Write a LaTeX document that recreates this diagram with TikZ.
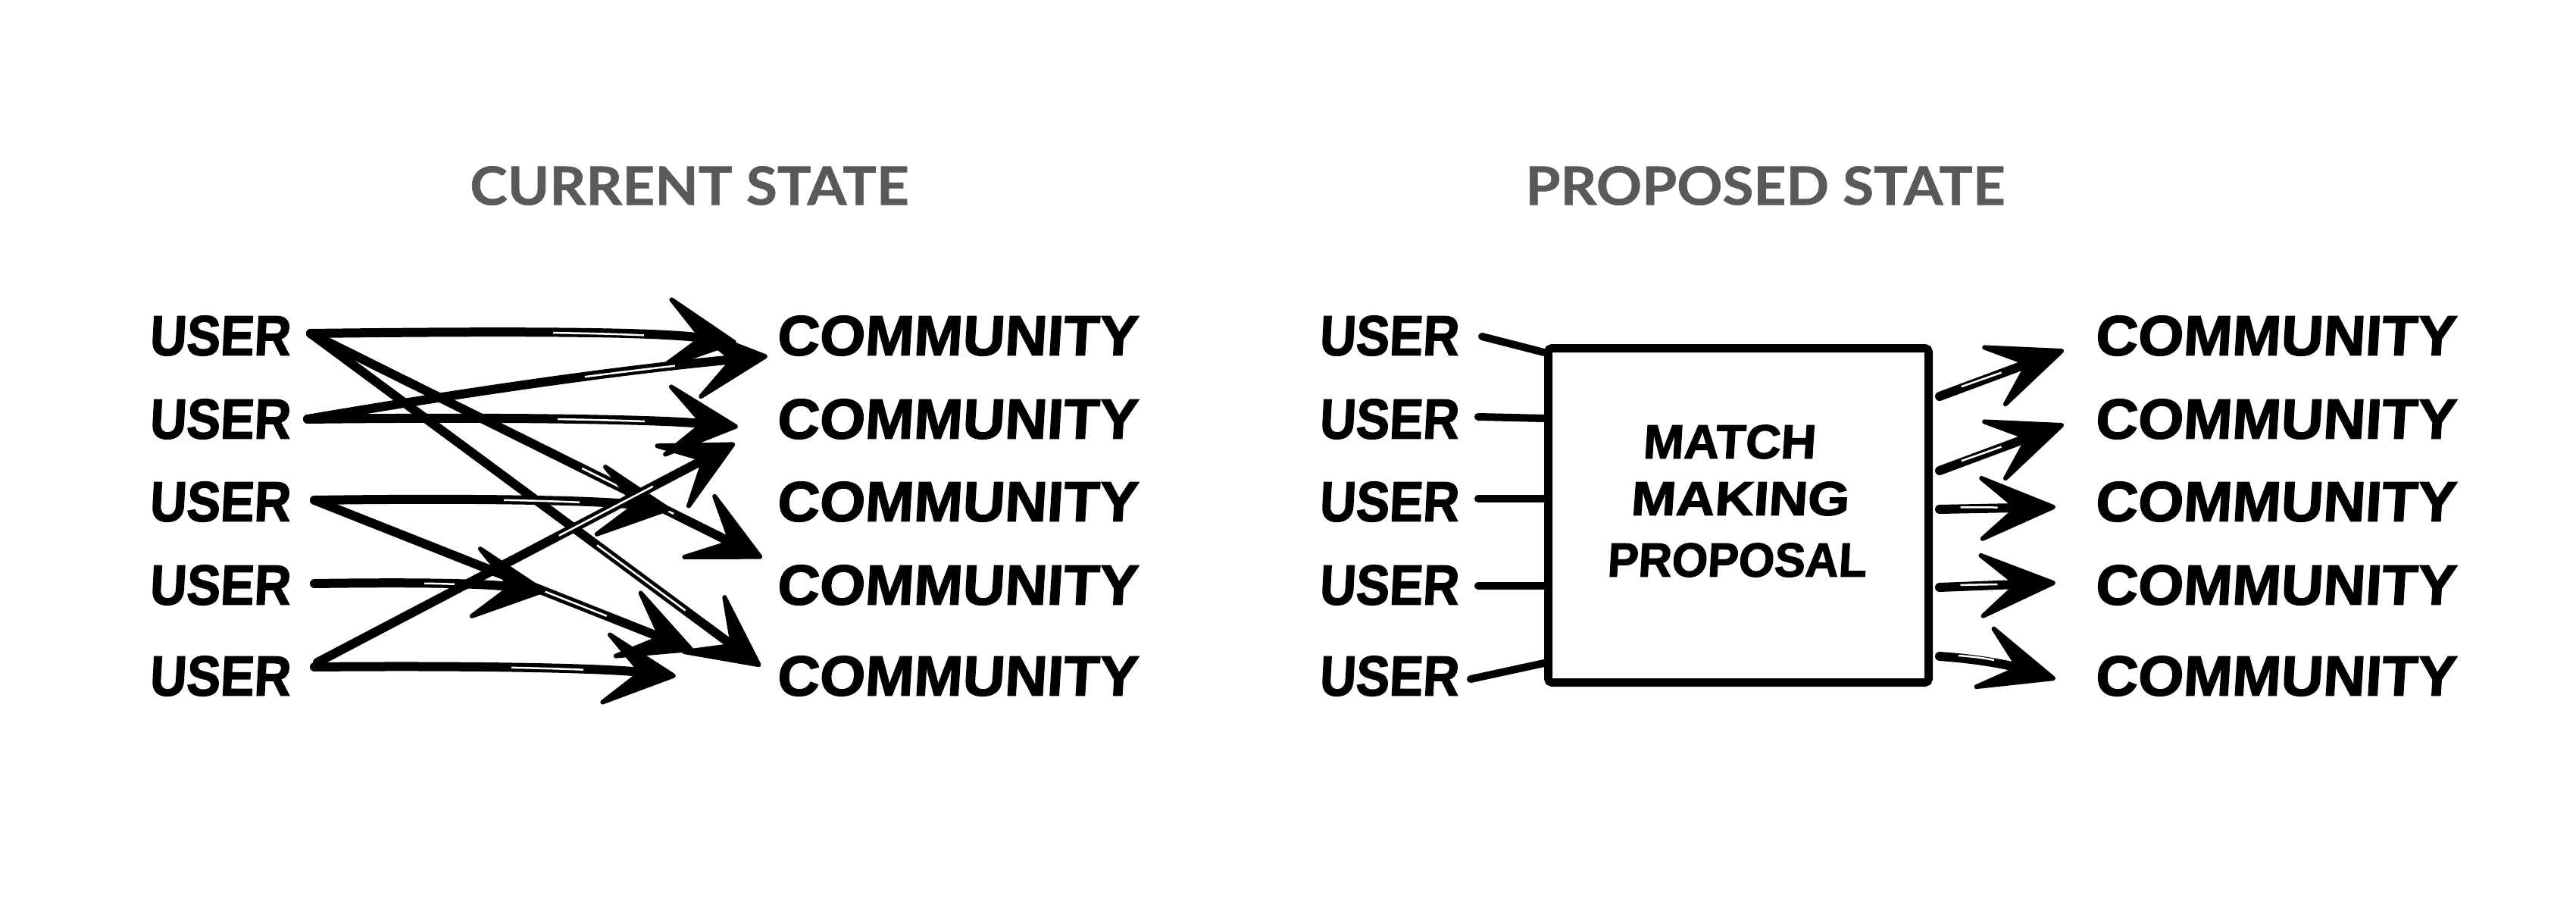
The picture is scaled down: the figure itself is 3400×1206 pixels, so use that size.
\documentclass[tikz,border=0pt]{standalone}
\usepackage{fontspec}
\usepackage{graphicx}
\usetikzlibrary{arrows.meta,calc}
\newfontfamily\handfont{Liberation Sans}[FakeSlant=0.06,FakeBold=2]
\newfontfamily\titlefont{Lato}[FakeBold=0.8]
\definecolor{titlegray}{HTML}{595959}
\newcommand\handtxt[3]{\resizebox{#1}{#2}{\handfont\bfseries #3}}
\newcommand\titletxt[3]{\resizebox{#1}{#2}{\titlefont\bfseries #3}}
\begin{document}
\begin{tikzpicture}[x=1pt,y=-1pt,
  lbl/.style={inner sep=0pt, outer sep=0pt},
  wire/.style={line width=12pt, line cap=round, line join=round},
  arr/.style={wire, -{Stealth[length=112pt,width=112pt,inset=58pt,line width=6pt,round]}},
  rwire/.style={line width=10pt, line cap=round, line join=round},
  rarr/.style={line width=12pt, line cap=round, line join=round,
               -{Stealth[length=118pt,width=100pt,inset=58pt,line width=6pt,round]}},
  gap/.style={draw=white, line width=2.5pt, line cap=butt},
  ttl/.style={lbl, text=titlegray}
]
\useasboundingbox (0,0) rectangle (3400,1206);
\fill[white] (0,0) rectangle (3400,1206);

% titles
\node[ttl] (tcur) at (910,245) {\titletxt{579pt}{51pt}{CURRENT STATE}};
\node[ttl] (tpro) at (2330,245) {\titletxt{633pt}{51pt}{PROPOSED STATE}};

% labels
\foreach \i/\y in {1/443,2/553,3/662,4/772,5/892}{
  \node[lbl, anchor=west] (lu\i) at (197,\y) {\handtxt{186pt}{52pt}{USER}};
  \node[lbl, anchor=west] (lc\i) at (1025,\y) {\handtxt{476pt}{52pt}{COMMUNITY}};
  \node[lbl, anchor=west] (ru\i) at (1741,\y) {\handtxt{184pt}{52pt}{USER}};
  \node[lbl, anchor=west] (rc\i) at (2765,\y) {\handtxt{476pt}{52pt}{COMMUNITY}};
}

% left connector ends
\coordinate (s1) at (410,440);
\coordinate (s2) at (406,553);
\coordinate (s3) at (415,660);
\coordinate (s4) at (415,770);
\coordinate (s5) at (415,880);
\coordinate (s5b) at (419,874);
\coordinate (t11) at (972,452);
\coordinate (t21) at (1013,470);
\coordinate (t22) at (974,563);
\coordinate (t52) at (970,585);
\coordinate (t33) at (885,672);
\coordinate (t14) at (1006,736);
\coordinate (t44) at (720,780);
\coordinate (t15) at (1004,879);
\coordinate (t35) at (915,858);
\coordinate (t55) at (892,892);

\draw[arr] (s1) .. controls (650,437) and (860,437) .. (t11);
\draw[gap, dash pattern=on 0pt off 320pt on 120pt off 9000pt] (s1) .. controls (650,437) and (860,437) .. (t11);
\draw[arr] (s1) -- (t14);
\draw[gap, dash pattern=on 0pt off 400pt on 135pt off 9000pt] (s1) -- (t14);
\draw[arr] (s1) -- (t15);
\draw[gap, dash pattern=on 0pt off 470pt on 145pt off 9000pt] (s1) -- (t15);
\draw[arr] (s2) .. controls (600,520) and (800,490) .. (t21);
\draw[gap, dash pattern=on 0pt off 370pt on 120pt off 9000pt] (s2) .. controls (600,520) and (800,490) .. (t21);
\draw[arr] (s2) .. controls (650,550) and (860,553) .. (t22);
\draw[gap, dash pattern=on 0pt off 330pt on 115pt off 9000pt] (s2) .. controls (650,550) and (860,553) .. (t22);
\draw[arr] (s3) .. controls (620,657) and (790,660) .. (t33);
\draw[gap, dash pattern=on 0pt off 250pt on 100pt off 9000pt] (s3) .. controls (620,657) and (790,660) .. (t33);
\draw[arr] (s3) -- (t35);
\draw[gap, dash pattern=on 0pt off 300pt on 115pt off 9000pt] (s3) -- (t35);
\draw[arr] (s4) .. controls (560,768) and (640,770) .. (t44);
\draw[gap, dash pattern=on 0pt off 145pt on 40pt off 9000pt] (s4) .. controls (560,768) and (640,770) .. (t44);
\draw[arr] (s5) .. controls (640,878) and (800,882) .. (t55);
\draw[gap, dash pattern=on 0pt off 260pt on 95pt off 9000pt] (s5) .. controls (640,878) and (800,882) .. (t55);
\draw[arr] (s5b) -- (t52);
\draw[gap, dash pattern=on 0pt off 360pt on 140pt off 9000pt] (s5b) -- (t52);

% right side: box
\node[draw, line width=11pt, rounded corners=5pt, minimum width=502pt,
      minimum height=441pt, inner sep=0pt] (box) at (2294.5,680) {};
\node[lbl] (m1) at (2282,583) {\handtxt{228pt}{44pt}{MATCH}};
\node[lbl] (m2) at (2296,658) {\handtxt{288pt}{44pt}{MAKING}};
\node[lbl] (m3) at (2292,739) {\handtxt{342pt}{44pt}{PROPOSAL}};

% right inputs
\coordinate (p1) at (1956,444);
\coordinate (p2) at (1951,550);
\coordinate (p3) at (1951,658);
\coordinate (p4) at (1951,773);
\coordinate (p5) at (1941,896);
\draw[rwire] (p1) -- (box.west |- 0,465);
\draw[rwire] (p2) -- (box.west |- 0,552);
\draw[rwire] (p3) -- (box.west |- 0,658);
\draw[rwire] (p4) -- (box.west |- 0,773);
\draw[rwire] (p5) -- (box.west |- 0,875);

% right outputs
\coordinate (q1) at (2724,462);
\coordinate (q2) at (2724,560);
\coordinate (q3) at (2713,669);
\coordinate (q4) at (2713,769);
\coordinate (q5) at (2713,896);
\coordinate (o1) at (2560,523);
\coordinate (o2) at (2560,621);
\coordinate (o3) at (2560,672);
\coordinate (o4) at (2560,775);
\coordinate (o5) at (2560,866);
\foreach \k in {1,2,3,4}{
  \draw[rarr] (o\k) -- (q\k);
  \draw[gap] ($(o\k)!0.18!(q\k)!2pt!90:(q\k)$) -- ($(o\k)!0.5!(q\k)!1pt!90:(q\k)$);
}
\draw[rarr] (o5) .. controls (2620,870) and (2660,880) .. (q5);
\draw[gap] (2585,865) .. controls (2600,866) and (2618,868) .. (2632,871);
\end{tikzpicture}
\end{document}
